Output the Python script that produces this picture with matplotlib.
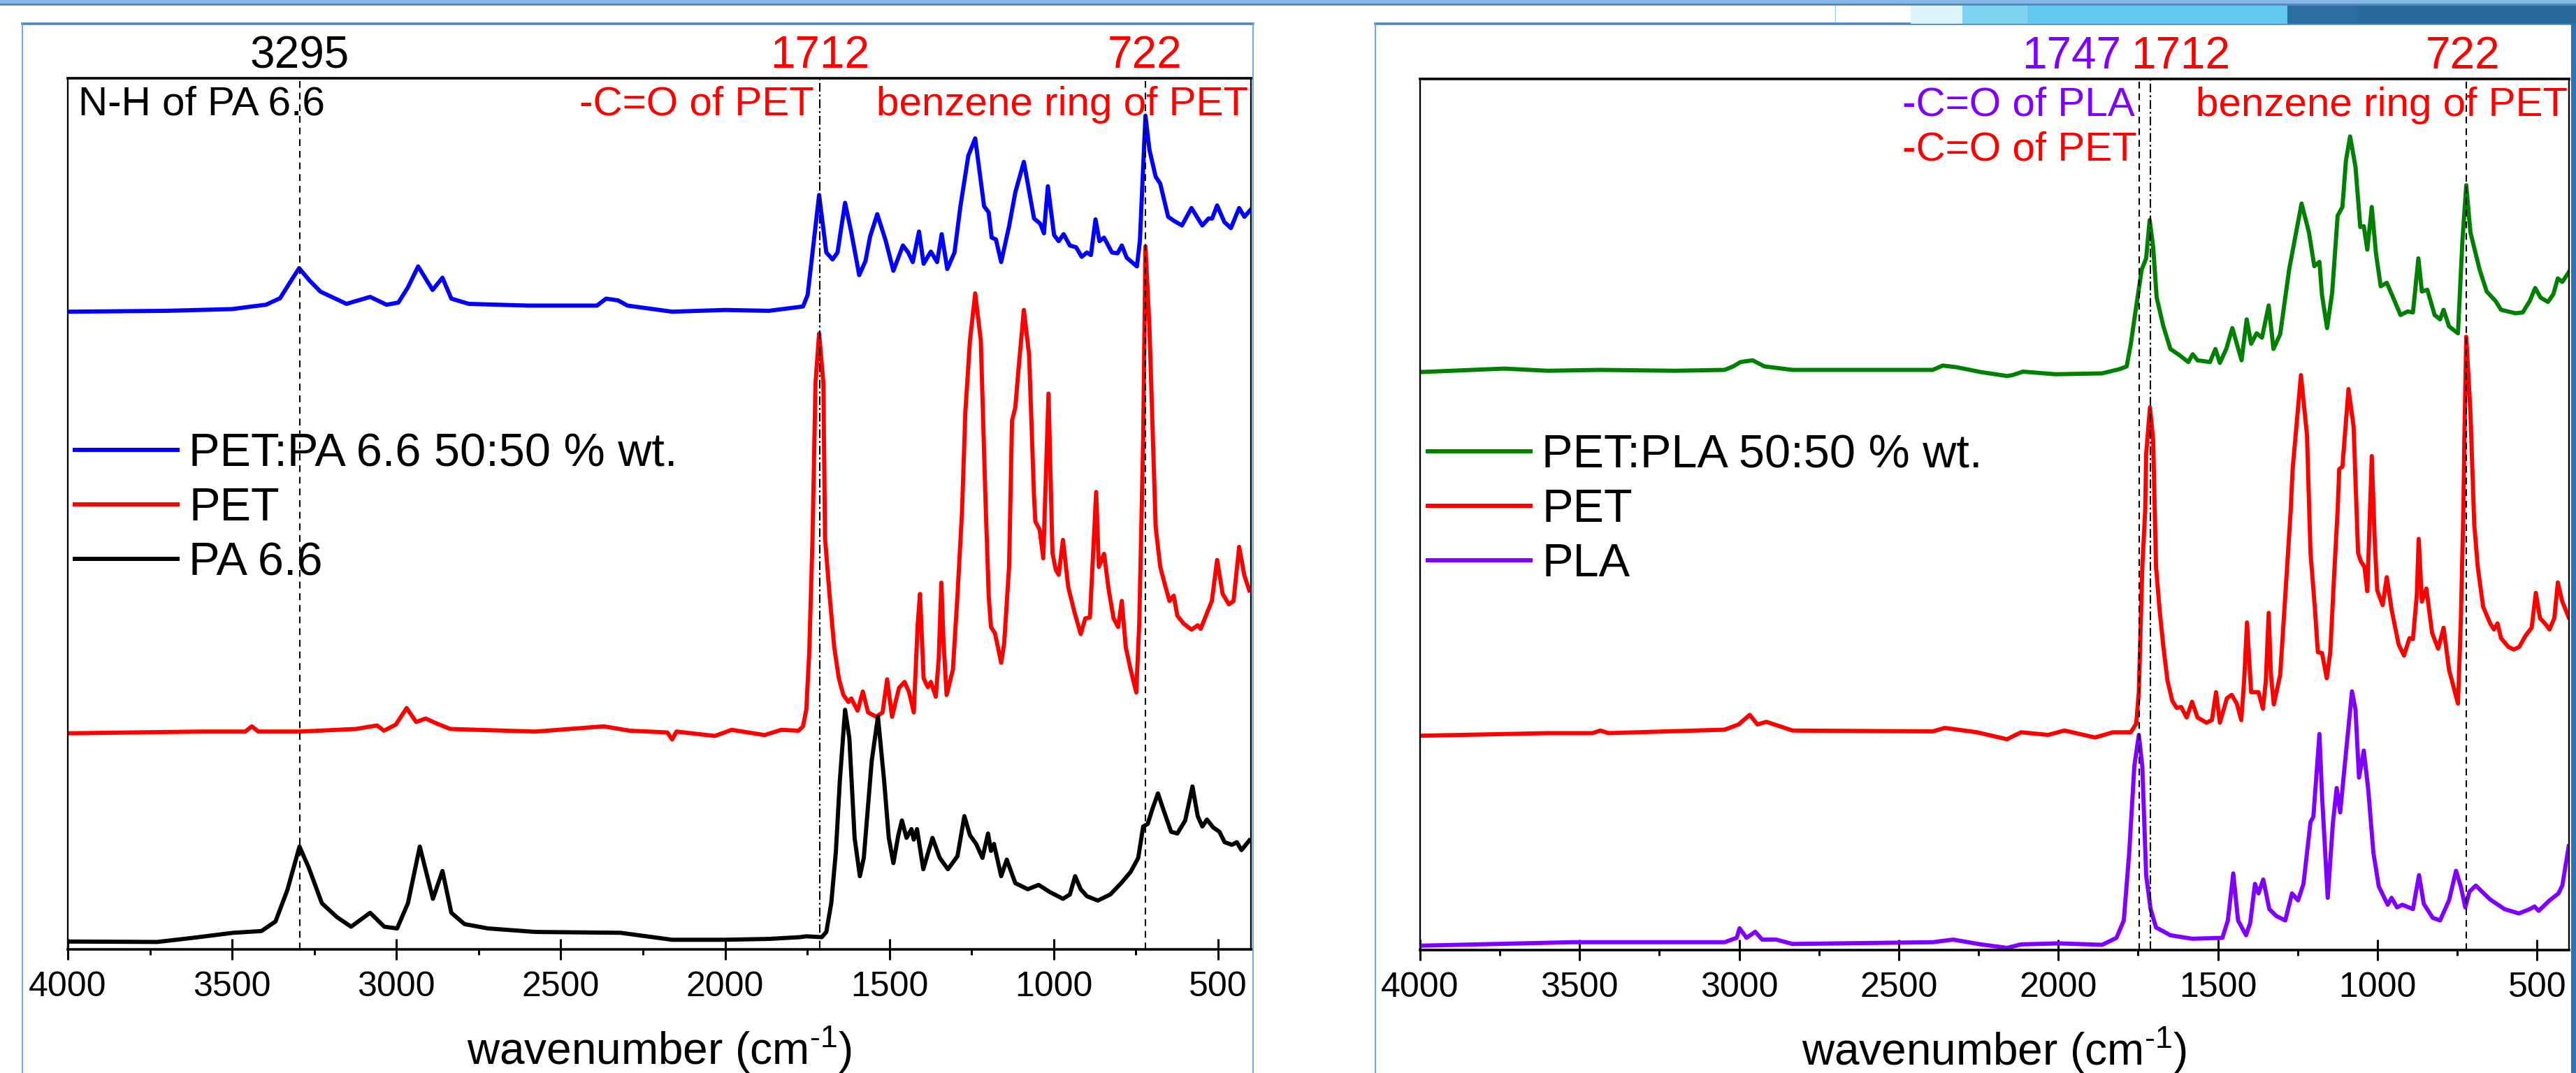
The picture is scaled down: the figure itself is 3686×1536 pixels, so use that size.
import numpy as np
import matplotlib
matplotlib.use('Agg')
import matplotlib.pyplot as plt
from matplotlib.patches import Rectangle
from matplotlib.lines import Line2D

# ---------------- DATA (wavenumber cm-1, relative intensity 0-100) ----------------
BLEND_PA = [(4000, 73.2), (3700, 73.3), (3500, 73.5), (3440, 73.8), (3397, 74.0), (3354, 74.75), (3325, 76.5),
            (3296, 78.2), (3265, 76.8), (3231, 75.5), (3152, 74.1), (3080, 74.9), (3030, 74.0), (2994, 74.25),
            (2965, 76.0), (2934, 78.4), (2890, 75.7), (2860, 77.1), (2833, 74.7), (2780, 74.1), (2600, 73.9),
            (2390, 73.9), (2362, 74.7), (2326, 74.5), (2297, 73.9), (2161, 73.2), (2000, 73.4), (1867, 73.3),
            (1763, 73.8), (1749, 75.1), (1734, 80.0), (1714, 86.6), (1692, 80.0), (1673, 79.2), (1658, 80.0),
            (1635, 85.7), (1616, 82.3), (1592, 77.4), (1573, 79.0), (1559, 81.8), (1537, 84.4), (1511, 81.3),
            (1488, 77.9), (1459, 80.8), (1443, 80.0), (1429, 78.9), (1410, 82.4), (1396, 78.7), (1374, 80.1),
            (1355, 78.9), (1341, 82.1), (1324, 78.1), (1302, 80.0), (1284, 85.3), (1260, 91.1), (1239, 93.1),
            (1212, 85.3), (1198, 84.6), (1189, 81.7), (1176, 81.5), (1160, 78.9), (1136, 83.0), (1117, 86.9),
            (1091, 90.4), (1060, 83.9), (1041, 83.3), (1030, 82.2), (1018, 87.6), (999, 82.0), (985, 81.3),
            (970, 82.1), (951, 80.8), (932, 80.6), (915, 79.5), (899, 80.0), (887, 79.7), (873, 83.8), (861, 81.3),
            (847, 81.7), (823, 80.0), (806, 79.9), (793, 80.8), (778, 79.4), (747, 78.4), (738, 81.3), (721, 95.7),
            (709, 91.8), (690, 88.7), (676, 87.9), (652, 84.1), (633, 83.6), (610, 83.1), (581, 85.1), (548, 83.1),
            (529, 83.9), (518, 83.9), (503, 85.4), (481, 83.5), (461, 82.8), (436, 85.1), (420, 84.1), (401, 84.9)]

PET_LEFT = [(4000, 24.8), (3600, 25.0), (3460, 25.0), (3440, 25.6), (3420, 25.0), (3295, 25.0), (3124, 25.3),
            (3059, 25.7), (3038, 25.1), (3002, 25.8), (2969, 27.7), (2940, 26.1), (2911, 26.5), (2876, 25.9),
            (2836, 25.3), (2578, 25.0), (2369, 25.6), (2290, 25.1), (2176, 24.9), (2161, 24.1), (2148, 25.0),
            (2031, 24.5), (1980, 25.2), (1880, 24.6), (1829, 25.2), (1777, 25.1), (1763, 25.6), (1753, 27.5),
            (1744, 34.1), (1734, 47.2), (1725, 65.0), (1714, 70.7), (1701, 65.0), (1696, 47.2), (1682, 40.6),
            (1668, 34.7), (1654, 31.1), (1640, 29.2), (1625, 28.4), (1616, 28.8), (1597, 27.4), (1581, 29.6),
            (1565, 27.2), (1540, 26.7), (1521, 27.2), (1507, 31.0), (1492, 26.7), (1471, 30.0), (1454, 30.7),
            (1440, 29.5), (1426, 27.2), (1414, 37.3), (1407, 40.8), (1396, 31.1), (1383, 30.1), (1374, 30.7),
            (1359, 29.0), (1350, 33.4), (1342, 42.1), (1336, 35.7), (1326, 29.2), (1307, 32.1), (1293, 40.6),
            (1279, 50.4), (1269, 61.7), (1255, 69.9), (1239, 75.3), (1222, 69.9), (1208, 51.9), (1198, 40.6),
            (1191, 37.0), (1179, 36.3), (1160, 32.9), (1151, 35.1), (1136, 43.9), (1127, 60.7), (1117, 62.2),
            (1108, 66.3), (1091, 73.4), (1075, 68.2), (1060, 51.9), (1056, 49.1), (1043, 48.2), (1032, 44.9),
            (1016, 63.8), (1004, 45.5), (994, 43.6), (985, 43.0), (972, 47.0), (956, 41.6), (937, 38.7), (918, 36.2),
            (904, 38.0), (890, 38.1), (871, 52.5), (863, 43.9), (847, 45.4), (833, 41.3), (818, 38.0), (804, 37.0),
            (793, 40.0), (781, 34.7), (766, 32.1), (749, 29.5), (740, 37.3), (728, 58.4), (721, 80.7), (709, 71.5),
            (690, 48.5), (676, 43.9), (662, 41.9), (648, 40.0), (635, 40.6), (624, 38.3), (605, 37.4), (581, 36.7),
            (562, 37.2), (553, 36.8), (538, 38.2), (519, 40.0), (503, 44.7), (486, 40.8), (467, 39.6), (453, 40.0),
            (436, 46.2), (420, 42.9), (405, 41.2)]

PA66 = [(4000, 0.9), (3728, 0.85), (3613, 1.35), (3497, 1.9), (3411, 2.1), (3368, 3.2), (3332, 6.8), (3295, 11.8),
        (3267, 9.4), (3227, 5.3), (3181, 3.7), (3138, 2.6), (3080, 4.2), (3037, 2.6), (2998, 2.4), (2965, 5.3),
        (2929, 11.8), (2889, 5.8), (2860, 9.0), (2833, 4.2), (2793, 2.9), (2721, 2.4), (2577, 2.0), (2318, 1.9),
        (2161, 1.1), (2002, 1.1), (1867, 1.2), (1772, 1.4), (1753, 1.5), (1706, 1.4), (1692, 2.0), (1677, 5.3),
        (1663, 11.2), (1651, 19.3), (1635, 27.5), (1622, 24.3), (1606, 12.8), (1590, 8.4), (1578, 10.5),
        (1554, 21.6), (1535, 26.7), (1516, 19.3), (1502, 12.8), (1488, 9.9), (1473, 13.1), (1462, 14.8),
        (1448, 12.8), (1433, 13.8), (1426, 12.6), (1416, 13.8), (1397, 9.2), (1369, 12.8), (1347, 10.5),
        (1322, 9.2), (1293, 10.7), (1272, 15.3), (1255, 13.1), (1236, 12.1), (1217, 10.5), (1200, 13.3),
        (1191, 11.3), (1182, 12.1), (1160, 8.4), (1143, 10.3), (1117, 7.6), (1079, 6.9), (1046, 7.4), (1013, 6.6),
        (972, 5.8), (951, 6.3), (935, 8.4), (918, 6.9), (899, 6.1), (866, 5.6), (828, 6.3), (795, 7.6), (766, 8.9),
        (743, 10.5), (728, 14.1), (714, 14.4), (700, 16.1), (683, 17.9), (667, 16.1), (643, 13.5), (624, 13.3),
        (600, 14.8), (578, 18.7), (562, 15.3), (548, 14.1), (534, 14.9), (515, 14.0), (496, 13.5), (480, 12.3),
        (458, 12.0), (443, 12.3), (429, 11.4), (420, 11.8), (405, 12.5)]

BLEND_PLA = [(4000, 66.35), (3737, 66.75), (3600, 66.5), (3435, 66.6), (3200, 66.5), (3046, 66.6), (3019, 67.0),
             (2996, 67.5), (2958, 67.7), (2921, 67.0), (2833, 66.6), (2645, 66.6), (2394, 66.6), (2362, 67.1),
             (2318, 66.9), (2243, 66.35), (2161, 65.9), (2144, 66.0), (2111, 66.4), (2009, 66.1), (1863, 66.2),
             (1807, 66.7), (1786, 67.0), (1773, 69.6), (1756, 73.9), (1739, 78.1), (1725, 79.4), (1714, 83.8),
             (1703, 80.7), (1692, 74.9), (1671, 71.6), (1649, 69.0), (1621, 68.3), (1593, 67.5), (1579, 68.4),
             (1564, 67.7), (1525, 67.5), (1508, 69.0), (1494, 67.4), (1474, 69.0), (1455, 71.4), (1426, 67.7),
             (1410, 72.4), (1396, 69.6), (1379, 70.8), (1362, 70.3), (1341, 74.0), (1326, 69.0), (1305, 70.7),
             (1277, 78.1), (1255, 82.4), (1238, 85.7), (1215, 82.4), (1198, 78.5), (1182, 79.0), (1174, 75.2),
             (1158, 71.4), (1142, 75.5), (1125, 84.3), (1110, 85.3), (1099, 90.6), (1086, 93.4), (1069, 89.9),
             (1054, 83.0), (1043, 83.1), (1032, 80.4), (1018, 85.3), (1005, 80.0), (990, 76.2), (971, 76.6),
             (951, 74.9), (928, 72.9), (906, 73.3), (889, 73.2), (872, 79.4), (861, 75.6), (844, 75.8), (821, 72.9),
             (804, 72.4), (793, 73.5), (776, 71.6), (748, 70.8), (734, 81.4), (722, 87.8), (709, 82.4), (680, 78.1),
             (658, 75.6), (630, 74.5), (613, 73.5), (568, 73.1), (545, 73.2), (523, 74.5), (506, 76.0), (489, 74.9),
             (466, 74.4), (449, 75.3), (435, 77.1), (421, 76.7), (401, 77.8)]

PET_RIGHT = [(4000, 24.6), (3600, 24.9), (3460, 24.9), (3435, 25.2), (3410, 24.9), (3046, 25.3), (3002, 25.9),
             (2967, 27.0), (2943, 25.9), (2915, 26.2), (2833, 25.2), (2394, 25.1), (2356, 25.5), (2255, 25.0),
             (2161, 24.2), (2117, 25.0), (2032, 24.7), (1981, 25.2), (1885, 24.4), (1829, 25.0), (1773, 25.0),
             (1756, 26.0), (1748, 29.6), (1737, 44.0), (1728, 50.5), (1725, 56.9), (1713, 62.3), (1703, 58.5),
             (1694, 44.0), (1683, 39.1), (1671, 34.8), (1658, 30.9), (1643, 28.6), (1629, 27.8), (1615, 27.9),
             (1598, 26.7), (1581, 28.5), (1564, 26.7), (1536, 26.1), (1519, 26.4), (1506, 29.6), (1494, 26.1),
             (1472, 28.9), (1457, 29.3), (1441, 28.3), (1427, 26.4), (1418, 30.9), (1409, 37.6), (1396, 29.6),
             (1373, 29.6), (1359, 27.7), (1350, 30.9), (1341, 38.7), (1334, 31.6), (1325, 28.2), (1305, 31.6),
             (1289, 40.7), (1272, 50.5), (1266, 55.2), (1240, 66.0), (1221, 59.1), (1210, 45.6), (1196, 39.1),
             (1187, 34.2), (1174, 34.1), (1159, 31.2), (1148, 34.2), (1137, 42.3), (1125, 50.5), (1120, 55.2),
             (1110, 55.5), (1091, 64.4), (1075, 60.1), (1061, 45.6), (1052, 44.6), (1041, 44.0), (1032, 41.2),
             (1018, 56.7), (1009, 47.2), (1001, 41.3), (984, 39.6), (971, 42.8), (956, 39.1), (934, 35.1),
             (917, 33.8), (900, 35.8), (889, 35.7), (877, 40.7), (871, 47.2), (861, 40.0), (847, 41.5), (829, 36.4),
             (810, 34.6), (793, 37.0), (776, 32.2), (748, 28.3), (739, 37.7), (731, 50.5), (728, 58.5), (722, 70.4),
             (709, 61.8), (697, 48.9), (686, 44.0), (669, 39.4), (647, 37.5), (635, 36.8), (624, 37.5), (613, 35.8),
             (590, 34.8), (573, 34.5), (556, 34.8), (536, 36.1), (517, 37.0), (504, 41.0), (491, 38.1), (478, 37.6),
             (461, 36.8), (446, 38.1), (435, 42.2), (421, 40.0), (401, 38.2)]

PLA = [(4000, 0.5), (3524, 0.9), (3046, 0.9), (3008, 1.4), (2999, 2.5), (2977, 1.4), (2950, 2.1), (2928, 1.2),
       (2884, 1.2), (2833, 0.7), (2394, 0.9), (2330, 1.2), (2243, 0.65), (2161, 0.25), (2117, 0.65), (1998, 0.77),
       (1863, 0.6), (1818, 1.4), (1795, 3.4), (1778, 11.2), (1762, 21.1), (1748, 24.7), (1737, 21.1), (1725, 8.6),
       (1711, 4.7), (1694, 2.6), (1649, 1.7), (1581, 1.3), (1486, 1.4), (1469, 3.4), (1452, 8.8), (1437, 3.4),
       (1412, 1.7), (1399, 3.1), (1384, 7.6), (1373, 6.5), (1358, 8.1), (1339, 4.7), (1317, 3.9), (1289, 3.4),
       (1268, 6.5), (1249, 5.7), (1232, 7.6), (1210, 14.7), (1201, 15.3), (1182, 24.8), (1174, 17.8), (1156, 6.0),
       (1140, 14.5), (1128, 18.6), (1117, 15.8), (1103, 21.1), (1080, 29.7), (1069, 27.6), (1058, 19.8),
       (1043, 22.9), (1029, 18.4), (1013, 11.2), (996, 7.3), (968, 5.2), (956, 6.0), (939, 4.9), (922, 5.2),
       (889, 4.7), (870, 8.6), (855, 5.3), (827, 3.7), (804, 3.4), (776, 5.7), (754, 9.1), (739, 7.3), (725, 4.9),
       (712, 6.7), (692, 7.4), (647, 5.8), (602, 4.7), (557, 4.2), (523, 4.7), (508, 5.0), (495, 4.5), (461, 5.7),
       (433, 6.5), (421, 7.4), (401, 11.9)]

LEFT_LABELS = ['PET:PA 6.6 50:50 % wt.', 'PET', 'PA 6.6']
RIGHT_LABELS = ['PET:PLA 50:50 % wt.', 'PET', 'PLA']
X_TICKS = [4000, 3500, 3000, 2500, 2000, 1500, 1000, 500]
LEFT_MARKS = [3295, 1712, 722]
RIGHT_MARKS = [1747, 1712, 722]

# ---------------- STYLE ----------------
plt.rcParams['font.family'] = ['Liberation Sans', 'DejaVu Sans']
plt.rcParams['mathtext.fontset'] = 'custom'
plt.rcParams['mathtext.rm'] = 'Liberation Sans'
plt.rcParams['mathtext.it'] = 'Liberation Sans:italic'
plt.rcParams['mathtext.bf'] = 'Liberation Sans:bold'
plt.rcParams['lines.scale_dashes'] = False

BLUE, RED, BLACK, GREEN, PURPLE = '#0000FF', '#FF0000', '#000000', '#008000', '#8000FF'
LW = 4.3
DASHED = (0, (7, 5))
DASHDOT = (0, (9, 3, 2, 3))

W, H = 3687, 1536
fig = plt.figure(figsize=(W / 100, H / 100), dpi=100)
fig.patch.set_facecolor('white')


def prect(x0, y0, x1, y1, color):
    fig.patches.append(Rectangle((x0 / W, 1 - y1 / H), (x1 - x0) / W, (y1 - y0) / H,
                                 transform=fig.transFigure, facecolor=color, edgecolor='none', zorder=0))


def pline(xs, ys, color, lw):
    fig.add_artist(Line2D([x / W for x in xs], [1 - y / H for y in ys], color=color, lw=lw,
                          transform=fig.transFigure, zorder=0))


# slide decorations
prect(0, 0, W, 5, '#86B6E3')
prect(0, 5, W, 8, '#4E8BC8')
prect(2734, 8, 2808, 34, '#DDF2FA')
prect(2808, 8, 2901, 34, '#7FD3EF')
prect(2901, 8, 3273, 34, '#63C9EE')
prect(3273, 8, 3373, 34, '#2C6E9F')
prect(3373, 8, W, 34, '#2A6A9A')
pline([2626, 2626], [8, 34], '#8FD3F0', 1.0)
prect(3679, 34, W, H, '#2E74B4')
# panel frames
pline([32, 1793], [34, 34], '#4A89C8', 2.6)
pline([32, 32], [34, H], '#6FA6DA', 1.4)
pline([1793, 1793], [34, H], '#6FA6DA', 1.4)
pline([1968, W], [34, 34], '#4A89C8', 2.6)
pline([1968, 1968], [34, H], '#6FA6DA', 1.4)


def make_axes(rect):
    ax = fig.add_axes(rect)
    ax.set_xlim(4000, 400)
    ax.set_ylim(0, 100)
    ax.set_xticks(X_TICKS)
    ax.set_xticks(np.arange(3750, 400, -500), minor=True)
    ax.set_yticks([])
    ax.tick_params(axis='x', which='major', direction='inout', length=21.6, width=2.2,
                   labelsize=36, pad=11.5, colors='black')
    ax.tick_params(axis='x', which='minor', direction='out', length=5.5, width=2.2)
    for s in ('top', 'bottom'):
        ax.spines[s].set_linewidth(2.6)
    for s in ('left', 'right'):
        ax.spines[s].set_linewidth(1.7)
    ax.text(0.5, -0.132, r'wavenumber (cm$^{\text{-1}}$)', transform=ax.transAxes,
            ha='center', va='baseline', fontsize=46)
    return ax


def series(ax, data, color, label):
    arr = np.array(data, dtype=float)
    line, = ax.plot(arr[:, 0], arr[:, 1], color=color, lw=LW, label=label, zorder=2,
                    solid_joinstyle='round')
    return line


def top_label(ax, x, text, color):
    ax.text(x, 1.0118, text, transform=ax.get_xaxis_transform(), ha='center', va='baseline',
            fontsize=46, color=color, clip_on=False)


LEG_KW = dict(loc='center left', frameon=False, fontsize=48, handlelength=2.2, handletextpad=0.25,
              labelspacing=0.24, borderpad=0, borderaxespad=0)

# ---------------- LEFT PANEL ----------------
ax1 = make_axes([97 / W, (H - 1359) / H, 1693 / W, 1247 / H])
h1 = [series(ax1, BLEND_PA, BLUE, LEFT_LABELS[0]),
      series(ax1, PET_LEFT, RED, LEFT_LABELS[1]),
      series(ax1, PA66, BLACK, LEFT_LABELS[2])]
ax1.axvline(LEFT_MARKS[0], color='black', lw=1.5, ls=DASHED, zorder=3)
ax1.axvline(LEFT_MARKS[1], color='black', lw=1.5, ls=DASHDOT, zorder=3)
ax1.axvline(LEFT_MARKS[2], color='black', lw=1.5, ls=DASHED, zorder=3)
top_label(ax1, 3295, '3295', BLACK)
top_label(ax1, 1712, '1712', RED)
top_label(ax1, 722, '722', RED)
ax1.text(0.009, 0.9575, 'N-H of PA 6.6', transform=ax1.transAxes, ha='left', va='baseline',
         fontsize=42, color=BLACK)
ax1.text(1729, 0.9575, '-C=O of PET', transform=ax1.get_xaxis_transform(), ha='right', va='baseline',
         fontsize=42, color=RED)
ax1.text(0.998, 0.9575, 'benzene ring of PET', transform=ax1.transAxes, ha='right', va='baseline',
         fontsize=42, color=RED)
ax1.legend(handles=h1, bbox_to_anchor=(0.006, 0.506), **LEG_KW)

# ---------------- RIGHT PANEL ----------------
ax2 = make_axes([2032 / W, (H - 1360) / H, 1644 / W, 1247 / H])
h2 = [series(ax2, BLEND_PLA, GREEN, RIGHT_LABELS[0]),
      series(ax2, PET_RIGHT, RED, RIGHT_LABELS[1]),
      series(ax2, PLA, PURPLE, RIGHT_LABELS[2])]
ax2.axvline(RIGHT_MARKS[0], color='black', lw=1.5, ls=DASHED, zorder=3)
ax2.axvline(RIGHT_MARKS[1], color='black', lw=1.5, ls=DASHDOT, zorder=3)
ax2.axvline(RIGHT_MARKS[2], color='black', lw=1.5, ls=DASHED, zorder=3)
top_label(ax2, 1958, '1747', PURPLE)
top_label(ax2, 1618, '1712', RED)
top_label(ax2, 733, '722', RED)
ax2.text(1760, 0.9577, '-C=O of PLA', transform=ax2.get_xaxis_transform(), ha='right', va='baseline',
         fontsize=42, color=PURPLE)
ax2.text(1754, 0.9062, '-C=O of PET', transform=ax2.get_xaxis_transform(), ha='right', va='baseline',
         fontsize=42, color=RED)
ax2.text(0.999, 0.9577, 'benzene ring of PET', transform=ax2.transAxes, ha='right', va='baseline',
         fontsize=42, color=RED)
ax2.legend(handles=h2, bbox_to_anchor=(0.0067, 0.505), **LEG_KW)

fig.savefig('out.png', dpi=100, facecolor='white')
